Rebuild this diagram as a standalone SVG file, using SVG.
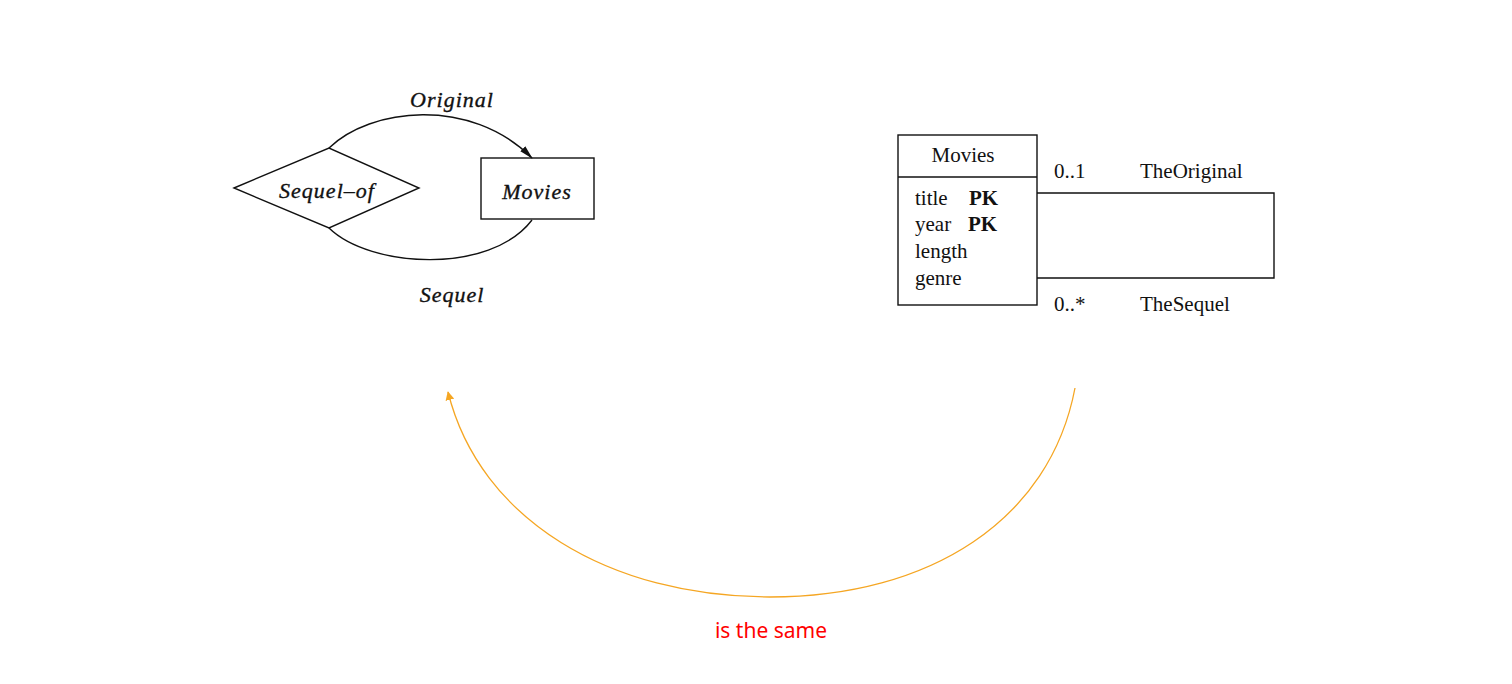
<svg xmlns="http://www.w3.org/2000/svg" width="1512" height="684" viewBox="0 0 1512 684">
<style>
.ln{fill:none;stroke:#111;stroke-width:1.4}
.er{font-family:"Liberation Serif",serif;font-style:italic;font-size:22px;fill:#111;stroke:#111;stroke-width:0.35;letter-spacing:1px}
.uml{font-family:"Liberation Serif",serif;font-size:21px;fill:#111}
.b{font-weight:bold}
</style>
<defs>
<marker id="ah" viewBox="0 0 14 10" refX="13" refY="5" markerWidth="14" markerHeight="10" markerUnits="userSpaceOnUse" orient="auto">
<path d="M0,1.5 L14,5 L0,8.5 z" fill="#111"/>
</marker>
<marker id="oh" viewBox="0 0 10 10" refX="9" refY="5" markerWidth="9" markerHeight="9" markerUnits="userSpaceOnUse" orient="auto">
<path d="M0,0 L10,5 L0,10 z" fill="#f5a623"/>
</marker>
</defs>
<rect width="1512" height="684" fill="#fff"/>
<g id="connectors">
<path class="ln" d="M329,148 C370,108 470,96 532,158" marker-end="url(#ah)"/>
<path class="ln" d="M329,228 C370,268 490,275 532,220"/>
<path class="ln" d="M1037,193 L1274,193 L1274,278 L1037,278"/>
<path d="M1075,388 C1050,520 930,597 770,597 C610,597 480,520 448,392" fill="none" stroke="#f5a623" stroke-width="1.3" marker-end="url(#oh)"/>
</g>
<g id="sequel-of">
<polygon class="ln" points="234,188 329,148 419,188 329,228"/>
<text class="er" x="327" y="198" text-anchor="middle">Sequel–of</text>
</g>
<g id="movies-er">
<rect class="ln" x="481" y="158" width="113" height="61"/>
<text class="er" x="537" y="199" text-anchor="middle">Movies</text>
</g>
<g id="er-labels">
<text class="er" x="452" y="107" text-anchor="middle">Original</text>
<text class="er" x="452" y="302" text-anchor="middle">Sequel</text>
</g>
<g id="movies-uml">
<rect class="ln" x="898" y="135" width="139" height="170"/>
<line class="ln" x1="898" y1="177" x2="1037" y2="177"/>
<text class="uml" x="963" y="162" text-anchor="middle">Movies</text>
<text class="uml" x="915" y="205">title</text><text class="uml b" x="969" y="205">PK</text>
<text class="uml" x="915" y="231">year</text><text class="uml b" x="968" y="231">PK</text>
<text class="uml" x="915" y="258">length</text>
<text class="uml" x="915" y="285">genre</text>
</g>
<g id="uml-labels">
<text class="uml" x="1054" y="178">0..1</text>
<text class="uml" x="1140" y="178">TheOriginal</text>
<text class="uml" x="1054" y="311">0..*</text>
<text class="uml" x="1140" y="311">TheSequel</text>
</g>
<g id="same-label">
<text x="771" y="638" text-anchor="middle" font-family="Noto Sans, sans-serif" font-size="21" fill="#ff0000">is the same</text>
</g>
</svg>
